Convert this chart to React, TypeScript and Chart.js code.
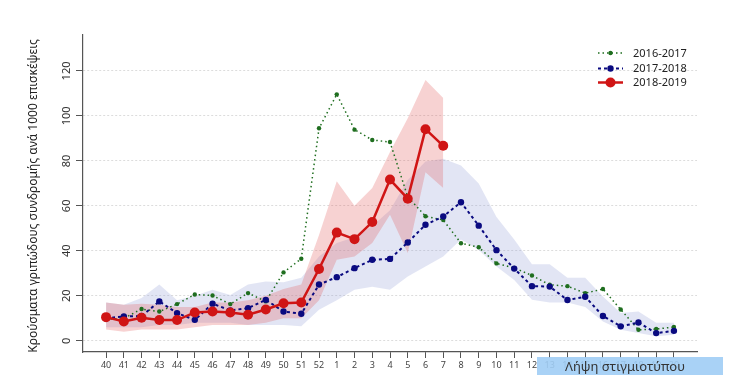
import React, { useEffect, useRef } from "react";
import { Chart, registerables } from "chart.js";

Chart.register(...registerables);

const weekLabels = [
  "40", "41", "42", "43", "44", "45", "46", "47", "48", "49", "50", "51", "52",
  "1", "2", "3", "4", "5", "6", "7", "8", "9", "10", "11", "12", "13", "14", "15", "16", "17", "18", "19", "20",
];

const season2016 = [
  9.5, 10, 14.1, 13.0, 16.3, 20.6, 20.1, 16.3, 21.2, 17.5, 30.4, 36.5, 94.5,
  109.6, 93.9, 89.3, 88.4, 64, 55.4, 53.7, 43.4, 41.6, 34.4, 32.4, 29.0, 24.9, 24.3, 21.2, 23.0, 13.9, 4.9, 5.2, 6.1,
];

const season2017 = [
  10, 10.8, 11, 17.5, 12.3, 9.3, 16.5, 13.5, 14.5, 18.2, 13, 12, 25,
  28.3, 32.3, 36, 36.4, 43.7, 51.6, 55.3, 61.6, 51.2, 40.3, 32.1, 24.3, 24.1, 18.1, 19.6, 11.0, 6.4, 8.1, 3.4, 4.4,
];

const season2018 = [
  10.5, 8.6, 10.2, 9.2, 9.2, 12.6, 13.0, 12.6, 11.6, 13.9, 16.7, 17.0, 31.9,
  48.1, 45.2, 52.8, 71.7, 63.2, 94.1, 86.7,
];

const band2018Upper = [
  17, 16, 16.5, 16, 15, 15, 17, 17, 18, 20, 23, 25, 47,
  71, 60, 68, 84, 99, 116, 108,
];
const band2018Lower = [
  5, 4, 5, 5, 5, 6, 7, 7, 7, 8, 10, 10, 18,
  36, 37.5, 43.5, 56, 39, 75, 68,
];

const band2017Upper = [
  17, 16, 19, 25, 18, 20, 22.7, 20.4, 25, 26.4, 26, 28, 37.5,
  43.5, 46, 51, 58, 71.5, 79.7, 81, 78, 70, 55, 45, 34, 34, 28, 28, 19.7, 12.4, 13, 8, 8,
];
const band2017Lower = [
  6, 6, 6, 7, 7, 8, 8, 8, 7, 7, 7, 6.4, 13.8,
  18, 22.7, 24, 22.7, 28.6, 33, 37.5, 45, 40.4, 33, 27, 18.2, 17, 17, 15, 8.6, 4.9, 3.5, 2, 2.7,
];

const yTickValues = [0, 20, 40, 60, 80, 100, 120];
const legendLabels = ["2016-2017", "2017-2018", "2018-2019"];
const yTitle = "Κρούσματα γριπώδους συνδρομής ανά 1000 επισκέψεις";

const FONT = "'Noto Sans', 'DejaVu Sans', sans-serif";
const GREEN = "#1f6e1f";
const BLUE = "#0a0a80";
const RED = "#d01515";

const toXY = (arr: number[]) => arr.map((v, i) => ({ x: i, y: v }));

const overlayPlugin = {
  id: "overlayText",
  afterDraw(chart: any) {
    const ctx = chart.ctx;
    const ys = chart.scales.y;
    ctx.save();
    ctx.fillStyle = "#333";
    ctx.font = `11px ${FONT}`;
    ctx.textAlign = "center";
    ctx.textBaseline = "middle";
    yTickValues.forEach((v) => {
      const py = ys.getPixelForValue(v);
      ctx.save();
      ctx.translate(67, py);
      ctx.rotate(-Math.PI / 2);
      ctx.fillText(String(v), 0, 0);
      ctx.restore();
    });
    ctx.save();
    ctx.font = `12px ${FONT}`;
    ctx.fillStyle = "#222";
    ctx.translate(34, 196);
    ctx.rotate(-Math.PI / 2);
    ctx.fillText(yTitle, 0, 0);
    ctx.restore();

    const items = [
      { label: legendLabels[0], color: GREEN, dash: [1.5, 3], lw: 1.5, r: 2.2, y: 53 },
      { label: legendLabels[1], color: BLUE, dash: [3, 3], lw: 2, r: 3.2, y: 68.5 },
      { label: legendLabels[2], color: RED, dash: [], lw: 2.5, r: 5, y: 82.5 },
    ];
    items.forEach((it) => {
      ctx.strokeStyle = it.color;
      ctx.lineWidth = it.lw;
      ctx.setLineDash(it.dash);
      ctx.beginPath();
      ctx.moveTo(598, it.y);
      ctx.lineTo(623, it.y);
      ctx.stroke();
      ctx.setLineDash([]);
      ctx.fillStyle = it.color;
      ctx.beginPath();
      ctx.arc(610.5, it.y, it.r, 0, Math.PI * 2);
      ctx.fill();
      ctx.fillStyle = "#222";
      ctx.font = `11px ${FONT}`;
      ctx.textAlign = "left";
      ctx.textBaseline = "middle";
      ctx.fillText(it.label, 633, it.y + 0.5);
    });
    ctx.restore();
  },
};

export default function App() {
  const ref = useRef<HTMLCanvasElement | null>(null);

  useEffect(() => {
    if (!ref.current) return;
    const chart = new Chart(ref.current, {
      type: "line",
      data: {
        datasets: [
          {
            label: legendLabels[2],
            data: toXY(season2018),
            borderColor: RED,
            backgroundColor: RED,
            borderWidth: 2.5,
            pointRadius: 5,
            pointBorderWidth: 0,
            fill: false,
          },
          {
            label: legendLabels[1],
            data: toXY(season2017),
            borderColor: BLUE,
            backgroundColor: BLUE,
            borderWidth: 2,
            borderDash: [3, 3],
            pointRadius: 3.2,
            pointBorderWidth: 0,
            fill: false,
          },
          {
            label: legendLabels[0],
            data: toXY(season2016),
            borderColor: GREEN,
            backgroundColor: GREEN,
            borderWidth: 1.5,
            borderDash: [1.5, 3],
            pointRadius: 2.2,
            pointBorderWidth: 0,
            fill: false,
          },
          {
            label: "band2018Lower",
            data: toXY(band2018Lower),
            borderWidth: 0,
            borderColor: "rgba(0,0,0,0)",
            pointRadius: 0,
            fill: false,
          },
          {
            label: "band2018Upper",
            data: toXY(band2018Upper),
            borderWidth: 0,
            borderColor: "rgba(0,0,0,0)",
            backgroundColor: "rgba(228,95,95,0.28)",
            pointRadius: 0,
            fill: "-1",
          },
          {
            label: "band2017Lower",
            data: toXY(band2017Lower),
            borderWidth: 0,
            borderColor: "rgba(0,0,0,0)",
            pointRadius: 0,
            fill: false,
          },
          {
            label: "band2017Upper",
            data: toXY(band2017Upper),
            borderWidth: 0,
            borderColor: "rgba(0,0,0,0)",
            backgroundColor: "rgba(150,160,215,0.28)",
            pointRadius: 0,
            fill: "-1",
          },
        ],
      },
      options: {
        animation: false,
        responsive: false,
        maintainAspectRatio: false,
        layout: { padding: { left: 8, top: 35, right: 53, bottom: 0 } },
        elements: { line: { tension: 0 } },
        plugins: {
          legend: { display: false },
          tooltip: { enabled: false },
          title: { display: false },
        },
        scales: {
          x: {
            type: "linear",
            min: -1.3,
            max: 33.3,
            afterBuildTicks: (scale: any) => {
              scale.ticks = weekLabels.map((_, i) => ({ value: i }));
            },
            afterFit: (scale: any) => {
              scale.height = 23;
            },
            ticks: {
              autoSkip: false,
              maxRotation: 0,
              minRotation: 0,
              padding: 2,
              color: "#444",
              font: { family: FONT, size: 9 },
              callback: (v: any) => weekLabels[Number(v)] ?? "",
            },
            grid: {
              drawOnChartArea: false,
              drawTicks: true,
              tickLength: 6,
              color: "#555",
              tickColor: "#555",
            },
            border: { display: true, color: "#555", width: 1.2 },
          },
          y: {
            type: "linear",
            min: -5,
            max: 136,
            afterBuildTicks: (scale: any) => {
              scale.ticks = yTickValues.map((v) => ({ value: v }));
            },
            afterFit: (scale: any) => {
              scale.width = 75;
            },
            ticks: {
              color: "rgba(0,0,0,0)",
              font: { family: FONT, size: 11 },
            },
            grid: {
              drawOnChartArea: true,
              drawTicks: true,
              tickLength: 7,
              color: "#dcdcdc",
              tickColor: "#555",
              lineWidth: 1,
            },
            border: { display: true, color: "#555", width: 1.2, dash: [2, 2] },
          },
        },
      },
      plugins: [overlayPlugin],
    } as any);
    return () => chart.destroy();
  }, []);

  return (
    <div style={{ position: "fixed", left: 0, top: 0, width: 750, height: 375, background: "#fff" }}>
      <canvas ref={ref} width={750} height={375} style={{ display: "block", width: 750, height: 375 }} />
      <div
        style={{
          position: "absolute",
          left: 537,
          top: 357,
          width: 186,
          height: 18,
          background: "rgba(160,205,245,0.9)",
          color: "#333",
          fontFamily: FONT,
          fontSize: 13,
          lineHeight: "18px",
          paddingLeft: 28,
          boxSizing: "border-box",
          whiteSpace: "nowrap",
        }}
      >
        Λήψη στιγμιοτύπου
      </div>
    </div>
  );
}
